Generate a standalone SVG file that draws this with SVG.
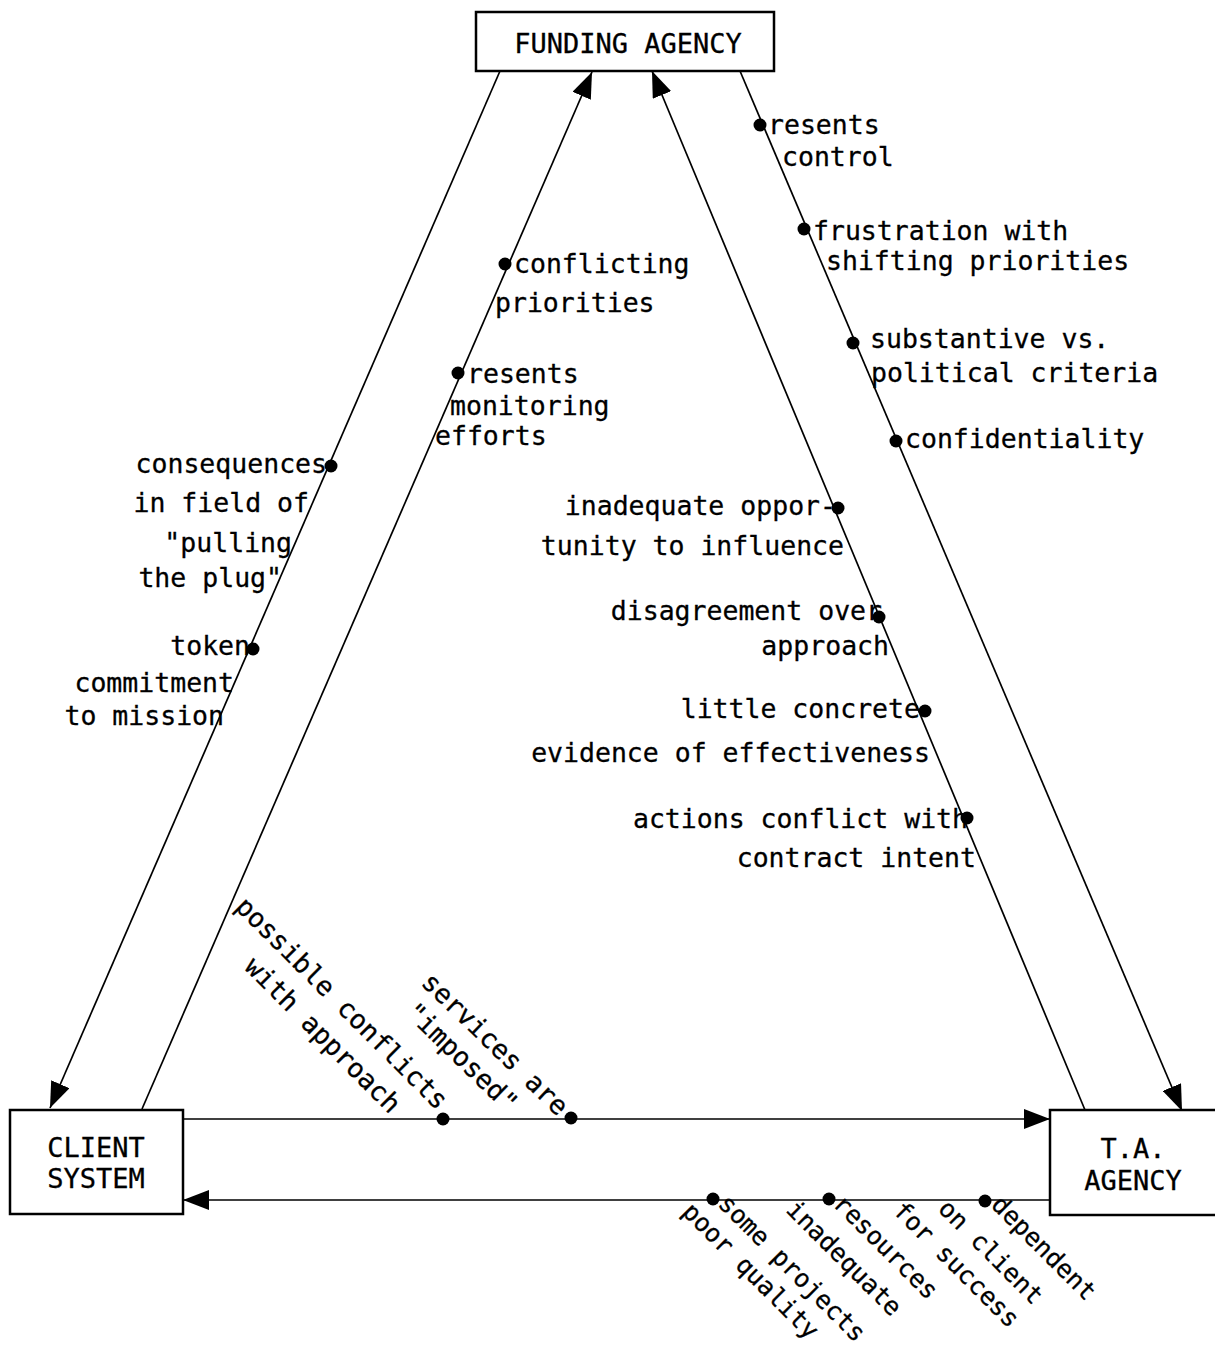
<svg xmlns="http://www.w3.org/2000/svg" width="1215" height="1357" viewBox="0 0 1215 1357">
<style>
text{font-family:"DejaVu Sans Mono","Liberation Mono",monospace;font-size:26.5px;fill:#000;stroke:#000;stroke-width:0.3}
.box{fill:#fff;stroke:#000;stroke-width:2.5}
.bt{font-size:27px}
.sm{font-size:25px}
.ln{stroke:#000;stroke-width:1.7;fill:none}
.e{text-anchor:end}
.m{text-anchor:middle}
</style>
<defs>
<marker id="ah" markerUnits="userSpaceOnUse" viewBox="0 0 26 20" markerWidth="26" markerHeight="20" refX="26" refY="10" orient="auto">
<path d="M0,0 L26,10 L0,20 z" fill="#000"/>
</marker>
</defs>
<rect width="1215" height="1357" fill="#fff"/>
<g id="connectors">
<line class="ln" x1="500" y1="71" x2="50" y2="1108" marker-end="url(#ah)"/>
<line class="ln" x1="142" y1="1109" x2="592" y2="72" marker-end="url(#ah)"/>
<line class="ln" x1="1085" y1="1110" x2="652" y2="71" marker-end="url(#ah)"/>
<line class="ln" x1="740" y1="71" x2="1182" y2="1111" marker-end="url(#ah)"/>
<line class="ln" x1="183" y1="1119" x2="1050" y2="1119" marker-end="url(#ah)"/>
<line class="ln" x1="1050" y1="1200" x2="183" y2="1200" marker-end="url(#ah)"/>
</g>
<g id="funding-agency">
<rect class="box" x="476" y="12" width="298" height="59"/>
<text class="bt m" x="628" y="53">FUNDING AGENCY</text>
</g>
<g id="client-system">
<rect class="box" x="10" y="1110" width="173" height="104"/>
<text class="bt m" x="96" y="1157">CLIENT</text>
<text class="bt m" x="96" y="1188">SYSTEM</text>
</g>
<g id="ta-agency">
<rect class="box" x="1050" y="1110" width="175" height="105"/>
<text class="bt m" x="1133" y="1158">T.A.</text>
<text class="bt m" x="1133" y="1190">AGENCY</text>
</g>
<g id="label-ta-to-funding-right">
<circle cx="760" cy="125" r="6.5"/>
<text x="768" y="134">resents</text>
<text x="782" y="166">control</text>
<circle cx="804" cy="229" r="6.5"/>
<text x="813" y="240">frustration with</text>
<text x="826" y="270">shifting priorities</text>
<circle cx="853" cy="343" r="6.5"/>
<text x="870" y="348">substantive vs.</text>
<text x="871" y="382">political criteria</text>
<circle cx="896" cy="441" r="6.5"/>
<text x="905" y="448">confidentiality</text>
</g>
<g id="label-client-to-funding">
<circle cx="505" cy="264" r="6.5"/>
<text x="514" y="273">conflicting</text>
<text x="495" y="312">priorities</text>
<circle cx="458" cy="373" r="6.5"/>
<text x="467" y="383">resents</text>
<text x="450" y="415">monitoring</text>
<text x="435" y="445">efforts</text>
</g>
<g id="label-funding-to-client">
<circle cx="331" cy="466" r="6.5"/>
<text class="e" x="327" y="473">consequences</text>
<text class="e" x="309" y="512">in field of</text>
<text class="e" x="292" y="552">"pulling</text>
<text class="e" x="282" y="587">the plug"</text>
<circle cx="253" cy="649" r="6.5"/>
<text class="e" x="250" y="655">token</text>
<text class="e" x="234" y="692">commitment</text>
<text class="e" x="224" y="725">to mission</text>
</g>
<g id="label-ta-to-funding-left">
<circle cx="838" cy="508" r="6.5"/>
<text class="e" x="836" y="515">inadequate oppor-</text>
<text class="e" x="844" y="555">tunity to influence</text>
<circle cx="879" cy="617" r="6.5"/>
<text class="e" x="882" y="620">disagreement over</text>
<text class="e" x="889" y="655">approach</text>
<circle cx="925" cy="711" r="6.5"/>
<text class="e" x="920" y="718">little concrete</text>
<text class="e" x="930" y="762">evidence of effectiveness</text>
<circle cx="967" cy="818" r="6.5"/>
<text class="e" x="968" y="828">actions conflict with</text>
<text class="e" x="976" y="867">contract intent</text>
</g>
<g id="label-client-to-ta">
<circle cx="443" cy="1119" r="6.5"/>
<circle cx="571" cy="1118" r="6.5"/>
<text transform="translate(234,908) rotate(45)">possible conflicts</text>
<text transform="translate(243,968) rotate(45)">with approach</text>
<text transform="translate(420,984) rotate(44)">services are</text>
<text transform="translate(404,1014) rotate(44)">"imposed"</text>
</g>
<g id="label-ta-to-client">
<circle cx="713" cy="1199" r="6.5"/>
<circle cx="829" cy="1199" r="6.5"/>
<circle cx="985" cy="1201" r="6.5"/>
<text class="sm" transform="translate(717,1205) rotate(45)">some projects</text>
<text class="sm" transform="translate(681,1213) rotate(45)">poor quality</text>
<text class="sm" transform="translate(832,1205) rotate(45)">resources</text>
<text class="sm" transform="translate(785,1211) rotate(45)">inadequate</text>
<text class="sm" transform="translate(990,1206) rotate(45)">dependent</text>
<text class="sm" transform="translate(937,1210) rotate(45)">on client</text>
<text class="sm" transform="translate(892,1212) rotate(45)">for success</text>
</g>
</svg>
